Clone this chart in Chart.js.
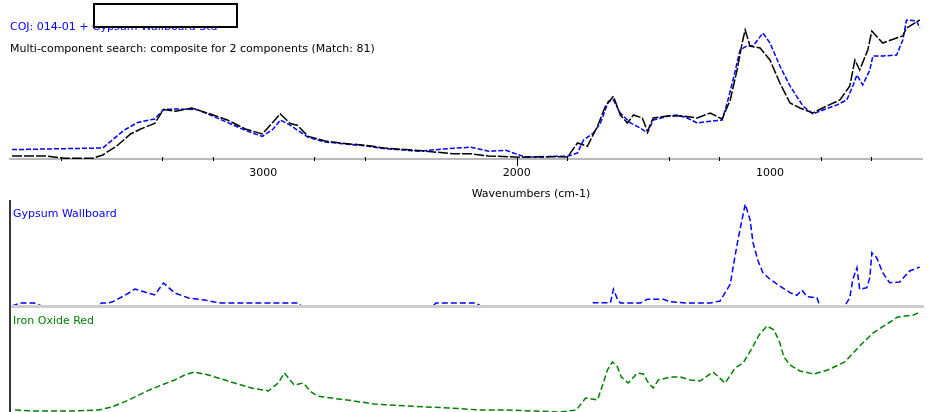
<!DOCTYPE html>
<html><head><meta charset="utf-8">
<script src="https://cdn.jsdelivr.net/npm/chart.js@4.4.1/dist/chart.umd.min.js"></script>
<style>
html,body{margin:0;padding:0;background:#fff;}
#wrap{position:relative;width:934px;height:412px;overflow:hidden;background:#fff;font-family:"DejaVu Sans",sans-serif;font-size:11px;}
canvas{position:absolute;left:0;}
.t{position:absolute;white-space:nowrap;line-height:13px;font-size:11px;}
#box{position:absolute;left:93px;top:3px;width:141px;height:21px;background:#fff;border:2px solid #000;}
</style></head><body>
<div id="wrap">
<canvas id="c1" width="934" height="190" style="top:0px"></canvas>
<canvas id="c2" width="934" height="118" style="top:190px"></canvas>
<canvas id="c3" width="934" height="112" style="top:300px"></canvas>
<div class="t" style="left:10px;top:20px;color:#0000ff">COJ: 014-01 + Gypsum Wallboard Std</div>
<div id="box"></div>
<div class="t" style="left:10px;top:42px;color:#000">Multi-component search: composite for 2 components (Match: 81)</div>
<div class="t" id="xtitle" style="left:531px;top:187px;color:#000;transform:translateX(-50%)">Wavenumbers (cm-1)</div>
<div class="t" style="left:13px;top:207px;color:#0000ff">Gypsum Wallboard</div>
<div class="t" style="left:13px;top:314px;color:#008000">Iron Oxide Red</div>
</div>
<script>
// ---------- data (wavenumber, absorbance) ----------
const topBlackWn = [3992,3862,3783,3673,3634,3579,3524,3484,3429,3394,
  3346,3283,3209,3142,3071,3004,2933,2894,2866,2823,
  2756,2689,2591,2524,2386,2248,2181,2110,1972,1894,
  1799,1760,1721,1681,1650,1618,1591,1563,1539,1504,
  1484,1461,1405,1343,1287,1236,1189,1157,1130,1110,
  1098,1079,1039,1000,961,921,882,831,776,724,
  685,665,646,614,598,555,500,476,461,409];
const topBlackAbs = [0.031,0.031,0.007,0.007,0.040,0.130,0.250,0.300,0.355,0.495,
  0.477,0.510,0.450,0.390,0.300,0.250,0.450,0.355,0.338,0.226,
  0.180,0.157,0.136,0.110,0.084,0.052,0.052,0.030,0.017,0.024,
  0.020,0.160,0.127,0.327,0.527,0.627,0.440,0.360,0.440,0.410,
  0.277,0.410,0.430,0.430,0.410,0.460,0.400,0.590,0.890,1.160,
  1.290,1.130,1.110,0.990,0.760,0.560,0.510,0.460,0.530,0.590,
  0.730,0.990,0.890,1.090,1.280,1.160,1.210,1.230,1.310,1.390];

const topBlueWn = [3992,3634,3551,3496,3429,3394,3346,3264,3209,3142,
  3071,3004,2961,2933,2894,2823,2756,2689,2591,2524,
  2386,2291,2181,2110,2043,1972,1894,1866,1799,1760,
  1736,1697,1669,1638,1618,1591,1551,1512,1484,1461,
  1405,1366,1327,1287,1236,1189,1169,1146,1118,1091,
  1067,1028,1000,961,921,870,831,791,736,697,
  673,657,634,606,594,555,500,476,461,421,
  409];
const topBlueAbs = [0.094,0.110,0.286,0.366,0.400,0.495,0.500,0.495,0.440,0.366,
  0.286,0.226,0.300,0.390,0.338,0.216,0.170,0.153,0.129,0.105,
  0.077,0.100,0.118,0.077,0.087,0.024,0.017,0.027,0.027,0.060,
  0.190,0.260,0.360,0.577,0.590,0.460,0.360,0.310,0.260,0.390,
  0.427,0.440,0.410,0.360,0.377,0.390,0.560,0.790,1.090,1.130,
  1.130,1.260,1.160,0.930,0.730,0.530,0.450,0.490,0.540,0.590,
  0.730,0.840,0.740,0.890,1.030,1.030,1.040,1.190,1.390,1.380,
  1.310];

const gypsumWn = [3992,3961,3906,3874,3657,3638,3610,3587,3531,3508,
  3468,3429,3394,3350,3295,3232,3193,3165,3114,2862,
  2850,2330,2319,2161,2142,1709,1697,1630,1618,1602,
  1591,1512,1484,1421,1394,1327,1236,1197,1157,1138,
  1126,1110,1098,1079,1067,1047,1028,1000,961,921,
  894,874,854,815,803,705,685,673,657,646,
  618,606,598,579,555,528,488,449,409];
const gypsumAbs = [0,0.03,0.03,0,0,0.03,0.03,0.05,0.13,0.17,
  0.14,0.11,0.23,0.13,0.08,0.06,0.04,0.03,0.03,0.03,
  0,0,0.03,0.03,0,0,0.033,0.033,0.167,0.067,
  0.03,0.03,0.067,0.067,0.043,0.03,0.03,0.05,0.217,0.50,
  0.667,0.867,1.017,0.867,0.633,0.45,0.333,0.267,0.20,0.133,
  0.107,0.16,0.093,0.083,0,0,0.083,0.267,0.383,0.167,
  0.183,0.283,0.533,0.483,0.333,0.233,0.24,0.35,0.39];

const ironWn = [3980,3902,3744,3650,3598,3531,3468,3402,3350,3311,
  3272,3217,3165,3114,3047,2980,2941,2917,2878,2843,
  2811,2787,2732,2642,2563,2433,2354,2260,2146,2035,
  1937,1827,1764,1728,1681,1658,1642,1622,1602,1587,
  1559,1524,1500,1480,1461,1441,1394,1354,1315,1276,
  1225,1177,1138,1106,1075,1043,1012,984,961,945,
  921,882,827,772,705,642,594,532,496,433,
  409];
const ironAbs = [0.02,0.01,0.01,0.02,0.05,0.12,0.20,0.27,0.32,0.37,
  0.40,0.37,0.33,0.29,0.24,0.21,0.29,0.39,0.27,0.29,
  0.20,0.16,0.14,0.11,0.08,0.06,0.05,0.04,0.02,0.02,
  0.01,0.00,0.02,0.14,0.12,0.29,0.42,0.50,0.45,0.35,
  0.29,0.39,0.38,0.29,0.24,0.32,0.35,0.35,0.32,0.31,
  0.40,0.29,0.44,0.49,0.62,0.77,0.86,0.82,0.69,0.55,
  0.47,0.41,0.38,0.42,0.50,0.67,0.79,0.89,0.95,0.97,
  1.00];

const tickLabelWn = [3000, 2000, 1000];
const tickLabels = ['3000', '2000', '1000'];
const minorTickWn = [3800,3400,3200,2800,2600,1800,1400,1200,800,600];
const majorTickWn = [2000];

// ---------- helpers ----------
const pts = (wn, ab) => wn.map((w, i) => ({x: w, y: ab[i]}));
const xRange = {type: 'linear', min: 400, max: 4000, reverse: true};
const baseOpts = {
  responsive: false, animation: false, devicePixelRatio: 1,
  plugins: {legend: {display: false}, tooltip: {enabled: false}, title: {display: false}},
  elements: {point: {radius: 0}, line: {tension: 0, fill: false}}
};

const tickPlugin = {
  id: 'tickPlugin',
  afterDraw(chart) {
    const ctx = chart.ctx, xs = chart.scales.x, y0 = chart.chartArea.bottom;
    ctx.save();
    ctx.strokeStyle = '#000'; ctx.lineWidth = 1;
    minorTickWn.forEach(v => {
      const px = Math.round(xs.getPixelForValue(v)) + 0.5;
      ctx.beginPath(); ctx.moveTo(px, y0 - 2); ctx.lineTo(px, y0 + 2); ctx.stroke();
    });
    majorTickWn.forEach(v => {
      const px = Math.round(xs.getPixelForValue(v)) + 0.5;
      ctx.beginPath(); ctx.moveTo(px, y0 - 2); ctx.lineTo(px, y0 + 7); ctx.stroke();
    });
    ctx.restore();
  }
};

const panelPlugin = {
  id: 'panelPlugin',
  afterDatasetsDraw(chart, args, opts) {
    const ctx = chart.ctx, a = chart.chartArea;
    ctx.save();
    if (opts.baseline) {
      ctx.strokeStyle = '#cdcdcd'; ctx.lineWidth = 3;
      ctx.beginPath(); ctx.moveTo(a.left, a.bottom + 0.5); ctx.lineTo(a.right + 2, a.bottom + 0.5); ctx.stroke();
    }
    ctx.strokeStyle = '#3a3a3a'; ctx.lineWidth = 2;
    ctx.beginPath(); ctx.moveTo(a.left, opts.top); ctx.lineTo(a.left, chart.height); ctx.stroke();
    ctx.restore();
  }
};

// ---------- top panel ----------
new Chart(document.getElementById('c1'), {
  type: 'line',
  data: {datasets: [
    {data: pts(topBlackWn, topBlackAbs), borderColor: '#000000', borderWidth: 1.5, borderDash: [10, 2]},
    {data: pts(topBlueWn, topBlueAbs), borderColor: '#0000ff', borderWidth: 1.5, borderDash: [5, 2]}
  ]},
  options: Object.assign({}, baseOpts, {
    layout: {padding: {left: 10, right: 12, top: 15, bottom: 1.8}},
    scales: {
      x: Object.assign({}, xRange, {
        display: true,
        grid: {display: false, drawTicks: false, tickLength: 0},
        border: {display: true, color: '#b9b9b9', width: 2},
        afterBuildTicks: s => { s.ticks = tickLabelWn.map(v => ({value: v})); },
        ticks: {autoSkip: false, maxRotation: 0, padding: 8, color: '#000',
          font: {family: 'DejaVu Sans', size: 11},
          callback: (v) => { const i = tickLabelWn.indexOf(v); return i >= 0 ? tickLabels[i] : ''; }}
      }),
      y: {display: false, min: 0, max: 1.44}
    }
  }),
  plugins: [tickPlugin]
});

// ---------- middle panel ----------
new Chart(document.getElementById('c2'), {
  type: 'line',
  data: {datasets: [
    {data: pts(gypsumWn, gypsumAbs), borderColor: '#0000ff', borderWidth: 1.5, borderDash: [6, 3]}
  ]},
  options: Object.assign({}, baseOpts, {
    layout: {padding: {left: 10, right: 12, top: 10, bottom: 2}},
    scales: {x: Object.assign({}, xRange, {display: false}), y: {display: false, min: 0, max: 1.06}},
    plugins: Object.assign({}, baseOpts.plugins, {panelPlugin: {baseline: true, top: 10}})
  }),
  plugins: [panelPlugin]
});

// ---------- bottom panel ----------
new Chart(document.getElementById('c3'), {
  type: 'line',
  data: {datasets: [
    {data: pts(ironWn, ironAbs), borderColor: '#008000', borderWidth: 1.5, borderDash: [6, 3]}
  ]},
  options: Object.assign({}, baseOpts, {
    layout: {padding: {left: 10, right: 12, top: 7, bottom: 0}},
    scales: {x: Object.assign({}, xRange, {display: false}), y: {display: false, min: 0, max: 1.05}},
    plugins: Object.assign({}, baseOpts.plugins, {panelPlugin: {baseline: false, top: 0}})
  }),
  plugins: [panelPlugin]
});
</script>
</body></html>
